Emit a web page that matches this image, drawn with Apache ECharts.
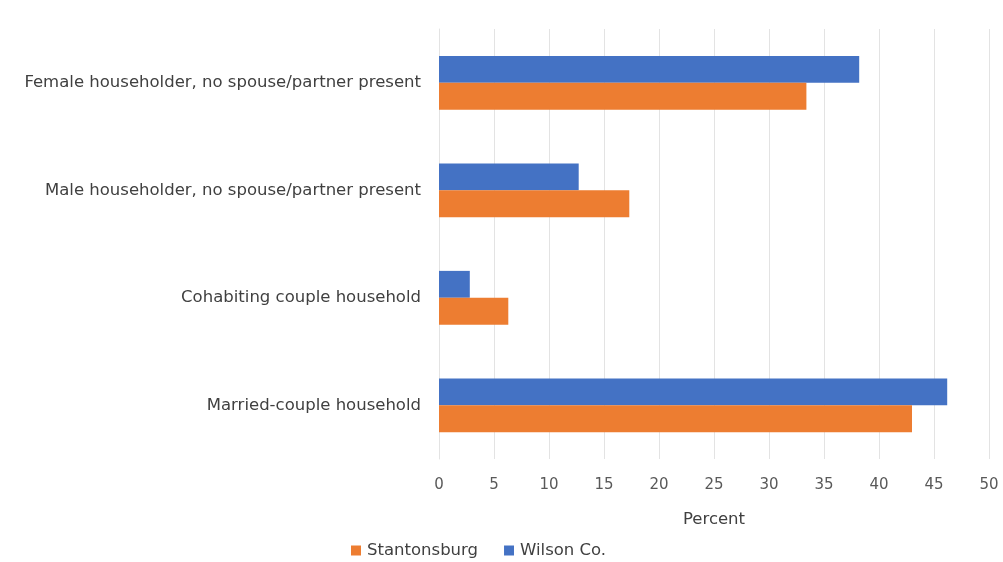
<!DOCTYPE html>
<html>
<head>
<meta charset="utf-8">
<script src="https://cdn.jsdelivr.net/npm/echarts@6/dist/echarts.min.js"></script>
<style>
  html, body { margin: 0; padding: 0; background: #fff; }
  #chart { width: 1003px; height: 562px; }
</style>
</head>
<body>
<div id="chart"></div>
<script>
// categories bottom to top, as the y axis draws them
let categories = ['Married-couple household', 'Cohabiting couple household',
	'Male householder, no spouse/partner present', 'Female householder, no spouse/partner present'];
let stantonsburg = [43.0, 6.3, 17.3, 33.4];
let wilsonCo = [46.2, 2.8, 12.7, 38.2];
let xTicks = [0, 50, 5];

let chart = echarts.init(document.getElementById('chart'));

let option = {
	animation: false,
	textStyle: { fontFamily: 'DejaVu Sans' },
	grid: { left: 439, right: 14, top: 29, bottom: 103 },
	legend: {
		bottom: -2,
		left: 346,
		itemWidth: 10,
		itemHeight: 10,
		itemGap: 26,
		icon: 'rect',
		textStyle: { color: '#404040', fontSize: 16.5, padding: [0, 0, 0, 1] },
		data: ['Stantonsburg', 'Wilson Co.']
	},
	xAxis: {
		type: 'value',
		min: xTicks[0],
		max: xTicks[1],
		interval: xTicks[2],
		name: 'Percent',
		nameLocation: 'middle',
		nameGap: 52,
		nameTextStyle: { color: '#404040', fontSize: 16.5 },
		axisLine: { show: false },
		axisTick: { show: false },
		axisLabel: { color: '#595959', fontSize: 15, margin: 19 },
		splitLine: { lineStyle: { color: '#e3e3e3', width: 1 } }
	},
	yAxis: {
		type: 'category',
		data: categories,
		axisLine: { lineStyle: { color: '#e3e3e3' } },
		axisTick: { show: false },
		axisLabel: { color: '#404040', fontSize: 16.5, margin: 18 }
	},
	series: [
		{
			name: 'Wilson Co.',
			type: 'bar',
			data: wilsonCo,
			barGap: '0%',
			barCategoryGap: '50%',
			itemStyle: { color: '#4472C4' }
		},
		{
			name: 'Stantonsburg',
			type: 'bar',
			data: stantonsburg,
			barGap: '0%',
			barCategoryGap: '50%',
			itemStyle: { color: '#ED7D31' }
		}
	]
};

chart.setOption(option);
</script>
</body>
</html>
